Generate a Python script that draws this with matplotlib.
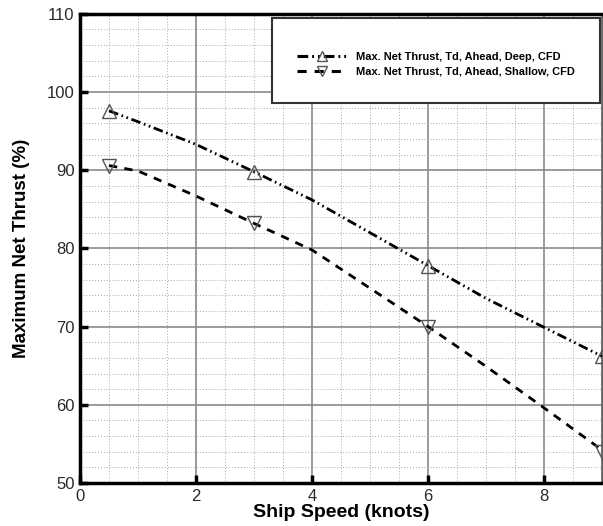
import matplotlib
matplotlib.use("Agg")
import matplotlib.pyplot as plt
from matplotlib.patches import Rectangle
from matplotlib.ticker import MultipleLocator
import numpy as np

plt.rcParams['font.family'] = ['Liberation Sans', 'DejaVu Sans']

# curves
speed_curve = [0.5, 1, 2, 3, 4, 5, 6, 7, 8, 9]
deep_curve = [97.6, 96.2, 93.3, 89.8, 86.2, 82.0, 77.8, 73.6, 69.9, 66.2]
shallow_curve = [90.6, 89.9, 86.7, 83.2, 79.8, 74.9, 70.0, 64.9, 59.6, 54.2]

# CFD points (markers)
speed_cfd = [0.5, 3, 6, 9]
deep_cfd = [97.6, 89.8, 77.8, 66.2]
shallow_cfd = [90.6, 83.3, 70.0, 54.0]

labels = ['Max. Net Thrust, Td, Ahead, Deep, CFD',
          'Max. Net Thrust, Td, Ahead, Shallow, CFD']

fig = plt.figure(figsize=(6.03, 5.26), dpi=100)
ax = fig.add_axes([0.1327, 0.0817, 0.866, 0.892])

mk = dict(markersize=10, markerfacecolor='none', markeredgecolor='#555555',
          markeredgewidth=1.0, linestyle='none')

l1, = ax.plot(speed_curve, deep_curve, color='black', lw=2, zorder=3)
l1.set_dashes([3.5, 1.3, 0.6, 1.3, 0.6, 1.3])
l2, = ax.plot(speed_curve, shallow_curve, color='black', lw=2, zorder=3)
l2.set_dashes([3, 2.6])
ax.plot(speed_cfd, deep_cfd, marker='^', zorder=4, **mk)
ax.plot(speed_cfd, shallow_cfd, marker='v', zorder=4, **mk)

ax.set_xlim(0, 9)
ax.set_ylim(50, 110)
ax.xaxis.set_major_locator(MultipleLocator(2))
ax.xaxis.set_minor_locator(MultipleLocator(0.5))
ax.yaxis.set_major_locator(MultipleLocator(10))
ax.yaxis.set_minor_locator(MultipleLocator(2))
ax.grid(True, which='major', color='#8a8a8a', lw=1.2, ls='-', zorder=0)
ax.grid(True, which='minor', color='#a8a8a8', lw=0.7, ls=(0, (1, 2)), zorder=0)
ax.set_axisbelow(True)
ax.tick_params(which='major', direction='in', length=6, width=2.5,
               labelsize=12, labelcolor='#2a2a2a', pad=4)
ax.tick_params(which='minor', length=0)

for s in ['left', 'bottom', 'top']:
    ax.spines[s].set_linewidth(2.5)
    ax.spines[s].set_color('black')
ax.spines['right'].set_linewidth(2)
ax.spines['right'].set_color('#666666')

ax.set_xlabel('Ship Speed (knots)', fontsize=14, fontweight='bold', labelpad=0)
ax.set_ylabel('Maximum Net Thrust (%)', fontsize=13.5, fontweight='bold', labelpad=12)

# legend box
ax.add_patch(Rectangle((0.368, 0.810), 0.628, 0.181, transform=ax.transAxes,
                       facecolor='white', edgecolor='#333333', lw=1.5, zorder=5))
h1 = plt.Line2D([], [], color='black', lw=2.2, marker='^', markersize=7,
                markerfacecolor='none', markeredgecolor='#555555')
h1.set_dashes([3.5, 1.3, 0.6, 1.3, 0.6, 1.3])
h2 = plt.Line2D([], [], color='black', lw=2.2, marker='v', markersize=7,
                markerfacecolor='none', markeredgecolor='#555555')
h2.set_dashes([3, 2.6])
leg = ax.legend([h1, h2], labels, loc='center', bbox_to_anchor=(0.681, 0.893),
                frameon=False, handlelength=4.55, handletextpad=0.82,
                labelspacing=0.45, prop={'size': 7.9, 'weight': 'bold'})
leg.set_zorder(6)

fig.savefig('out.png', dpi=100)
